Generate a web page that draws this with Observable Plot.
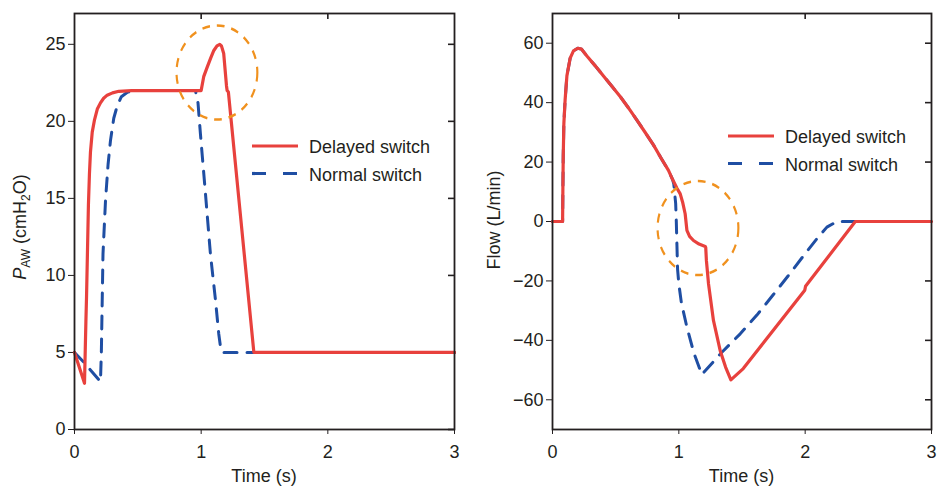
<!DOCTYPE html>
<html>
<head>
<meta charset="utf-8">
<script src="https://cdn.jsdelivr.net/npm/d3@7"></script>
<script src="https://cdn.jsdelivr.net/npm/@observablehq/plot@0.6"></script>
<style>
  html, body { margin: 0; padding: 0; background: #fff; }
  #wrap { display: flex; width: 939px; height: 486px; overflow: hidden; }
  #wrap svg { overflow: visible; display: block; }
</style>
</head>
<body>
<div id="wrap"><div id="left"></div><div id="right"></div></div>
<script>
// ---------- data ----------
const xTicks = [0, 1, 2, 3];
const pawTicks = [0, 5, 10, 15, 20, 25];
const flowTicks = [-60, -40, -20, 0, 20, 40, 60];
const seriesNames = ["Delayed switch", "Normal switch"];

// Airway pressure, delayed switch
const pawDelayedT = [0, 0.079, 0.085, 0.09, 0.095, 0.103, 0.11, 0.118, 0.126, 0.14, 0.158, 0.18, 0.205, 0.23, 0.258, 0.3, 0.35, 0.45, 1.0, 1.02, 1.047, 1.075, 1.1, 1.125, 1.147, 1.16, 1.178, 1.2, 1.205, 1.215, 1.416, 3];
const pawDelayedV = [5, 3, 5.2, 7.0, 8.6, 11.8, 14.6, 16.6, 18.0, 19.3, 20.1, 20.8, 21.2, 21.5, 21.7, 21.85, 21.95, 22, 22, 22.9, 23.5, 24.1, 24.6, 24.9, 25.0, 24.9, 24.4, 22.3, 22.0, 21.9, 5, 5];

// Airway pressure, normal switch
const pawNormalT = [0, 0.07, 0.205, 0.212, 0.218, 0.225, 0.245, 0.265, 0.284, 0.31, 0.337, 0.37, 0.42, 0.5, 0.955, 0.975, 0.994, 1.034, 1.073, 1.113, 1.139, 1.157, 1.175, 3];
const pawNormalV = [5, 4.4, 3.1, 5.0, 8.0, 11.4, 14.9, 17.2, 18.75, 20.2, 21.0, 21.6, 21.9, 22, 22, 21.2, 19.2, 15.3, 11.4, 8.4, 6.2, 5.1, 5, 5];

// Flow, delayed switch
const flowDelayedT = [0, 0.08, 0.082, 0.085, 0.09, 0.1, 0.114, 0.14, 0.166, 0.2, 0.23, 0.274, 0.34, 0.405, 0.47, 0.537, 0.6, 0.668, 0.73, 0.8, 0.86, 0.918, 0.95, 0.984, 1.011, 1.03, 1.05, 1.064, 1.085, 1.116, 1.16, 1.209, 1.213, 1.218, 1.235, 1.274, 1.327, 1.37, 1.412, 1.51, 1.997, 2.003, 2.397, 3];
const flowDelayedV = [0, 0, 10, 22, 33, 41, 49, 55, 57.4, 58.3, 58, 55.6, 52.3, 48.9, 45.5, 42, 38.3, 34.1, 30.2, 25.7, 21.3, 17.2, 14.2, 11.3, 9.3, 6.5, 2.6, -3.0, -5.0, -6.4, -7.6, -8.4, -8.8, -13, -21, -33.3, -43.4, -49, -53.3, -49.5, -23.1, -21.8, 0, 0];

// Flow, normal switch
const flowNormalT = [0, 0.08, 0.082, 0.085, 0.09, 0.1, 0.114, 0.14, 0.166, 0.2, 0.23, 0.274, 0.34, 0.405, 0.47, 0.537, 0.6, 0.668, 0.73, 0.8, 0.86, 0.918, 0.95, 0.96, 0.975, 0.98, 0.985, 0.99, 1.0, 1.02, 1.064, 1.12, 1.182, 1.341, 1.486, 1.618, 1.75, 1.88, 2.0, 2.093, 2.172, 2.251, 3];
const flowNormalV = [0, 0, 10, 22, 33, 41, 49, 55, 57.4, 58.3, 58, 55.6, 52.3, 48.9, 45.5, 42, 38.3, 34.1, 30.2, 25.7, 21.3, 17.2, 14.2, 12.7, 6, 0, -8, -16, -21, -27.3, -35.6, -44.4, -51.5, -44, -37.8, -31.5, -24.5, -17.5, -10.8, -5.8, -1.9, 0, 0];

// Highlight circles (annotation centres)
const pawHighlight = [{t: 1.125, v: 23.17}];
const flowHighlight = [{t: 1.152, v: -2.2}];

// ---------- helpers ----------
const zip = (T, V) => T.map((t, i) => ({t, v: V[i]}));
const RED = "#e8413d", BLUE = "#1f4ea3", ORANGE = "#f0911e", INK = "#231f20";
const FONT = "'Liberation Sans', Arial, Helvetica, sans-serif";

function panel({width, mL, mR, yDomain, yTicks, delayed, normal, highlight, yLabel, legendX, legendY}) {
  const height = 486, mT = 13, mB = 57;
  const plotW = width - mL - mR, plotH = height - mT - mB;
  const chart = Plot.plot({
    width, height, marginLeft: mL, marginRight: mR, marginTop: mT, marginBottom: mB,
    style: {fontFamily: FONT, fontSize: "18px", color: INK, background: "white", overflow: "visible"},
    x: {domain: [0, 3], ticks: xTicks, tickSize: 5, tickPadding: 11, label: null, tickFormat: d => String(d)},
    y: {domain: yDomain, ticks: yTicks, tickSize: 6, tickPadding: 3, label: null},
    marks: [
      Plot.ruleX(xTicks.slice(1, -1), {stroke: INK, strokeWidth: 1.6, insetBottom: plotH - 6}),
      Plot.ruleY(yTicks, {stroke: INK, strokeWidth: 1.6, insetLeft: plotW - 6}),
      Plot.line(normal, {x: "t", y: "v", stroke: BLUE, strokeWidth: 3, strokeDasharray: "13,10"}),
      Plot.line(delayed, {x: "t", y: "v", stroke: RED, strokeWidth: 3.2, strokeLinejoin: "round"}),
      Plot.dot(highlight, {x: "t", y: "v", r: 47, stroke: ORANGE, strokeWidth: 2.5, strokeDasharray: "9,8", fill: "none"}),
      Plot.frame({stroke: INK, strokeWidth: 1.8})
    ]
  });
  const svg = d3.select(chart);
  // squash the highlight circle into an ellipse
  const cx = chart.scale("x").apply(highlight[0].t), cy = chart.scale("y").apply(highlight[0].v);
  svg.selectAll("g[aria-label='dot']").each(function() {
    const prev = this.getAttribute("transform") || "";
    this.setAttribute("transform", `translate(${cx},${cy}) scale(0.86,1) translate(${-cx},${-cy}) ${prev}`);
  });
  // x label
  svg.append("text").attr("x", mL + plotW / 2).attr("y", 482).attr("text-anchor", "middle")
    .attr("font-family", FONT).attr("font-size", 18).attr("fill", INK).text("Time (s)");
  // y label
  yLabel(svg);
  // legend
  const lg = svg.append("g").attr("font-family", FONT).attr("font-size", 18).attr("fill", INK).attr("text-anchor", "start");
  [[RED, null], [BLUE, "14,17"]].forEach(([c, dash], i) => {
    const y = legendY + i * 27.5;
    const ln = lg.append("line").attr("x1", legendX).attr("x2", legendX + 46).attr("y1", y).attr("y2", y)
      .attr("stroke", c).attr("stroke-width", 3.2);
    if (dash) ln.attr("stroke-dasharray", dash);
    lg.append("text").attr("x", legendX + 57).attr("y", y + 1).attr("text-anchor", "start")
      .attr("dominant-baseline", "central").text(seriesNames[i]);
  });
  return chart;
}

const left = panel({
  width: 470, mL: 74, mR: 16, yDomain: [0, 27], yTicks: pawTicks,
  delayed: zip(pawDelayedT, pawDelayedV), normal: zip(pawNormalT, pawNormalV), highlight: pawHighlight,
  legendX: 252, legendY: 146,
  yLabel: svg => {
    const t = svg.append("text").attr("transform", "translate(26,227) rotate(-90)").attr("text-anchor", "middle")
      .attr("font-family", FONT).attr("font-size", 18).attr("fill", INK);
    t.append("tspan").attr("font-style", "italic").text("P");
    t.append("tspan").attr("font-size", 12).attr("dy", 4).text("AW");
    t.append("tspan").attr("dy", -4).text(" (cmH");
    t.append("tspan").attr("font-size", 12).attr("dy", 4).text("2");
    t.append("tspan").attr("dy", -4).text("O)");
  }
});
const right = panel({
  width: 469, mL: 82, mR: 8, yDomain: [-70, 70], yTicks: flowTicks,
  delayed: zip(flowDelayedT, flowDelayedV), normal: zip(flowNormalT, flowNormalV), highlight: flowHighlight,
  legendX: 258, legendY: 136,
  yLabel: svg => {
    svg.append("text").attr("transform", "translate(30,220) rotate(-90)").attr("text-anchor", "middle")
      .attr("font-family", FONT).attr("font-size", 18).attr("fill", INK).text("Flow (L/min)");
  }
});
document.getElementById("left").appendChild(left);
document.getElementById("right").appendChild(right);
</script>
</body>
</html>
